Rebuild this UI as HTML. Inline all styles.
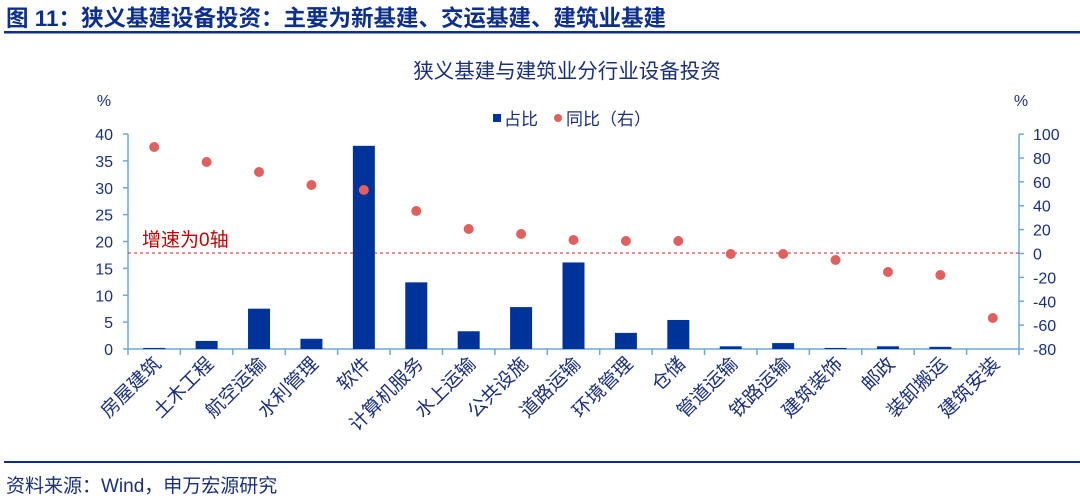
<!DOCTYPE html>
<html><head><meta charset="utf-8"><style>
body{margin:0;background:#fff;}
svg{display:block;font-family:"Liberation Sans","Noto Sans CJK SC",sans-serif;}
</style></head><body>
<svg width="1080" height="499" viewBox="0 0 1080 499">
<text x="6" y="26" font-size="22.5" font-weight="bold" fill="#0d2f8c">图 11：狭义基建设备投资：主要为新基建、交运基建、建筑业基建</text>
<rect x="4" y="31" width="1076" height="2.5" fill="#0d2f8c"/>
<text x="567" y="78" font-size="20.5" fill="#1a2f7a" text-anchor="middle">狭义基建与建筑业分行业设备投资</text>
<text x="104" y="106" font-size="16" fill="#1a2f7a" text-anchor="middle">%</text>
<text x="1021" y="106" font-size="16" fill="#1a2f7a" text-anchor="middle">%</text>
<rect x="493" y="114" width="8" height="8" fill="#003399"/>
<text x="504" y="125" font-size="17" fill="#1a2f7a">占比</text>
<circle cx="558" cy="118" r="4" fill="#e06060"/>
<text x="566" y="125" font-size="17" fill="#1a2f7a">同比（右）</text>
<g stroke="#6fa8dc" stroke-width="1.5" fill="none">
<line x1="128" y1="134" x2="128" y2="349"/>
<line x1="1019" y1="134" x2="1019" y2="349"/>
<line x1="128" y1="349" x2="1019" y2="349"/>
</g>
<line x1="128" y1="253" x2="1019" y2="253" stroke="#d02020" stroke-width="1" stroke-dasharray="3,3"/>
<text x="142" y="246" font-size="19" fill="#c00000">增速为0轴</text>
<g id="g"></g>
<text x="6" y="492" font-size="19" fill="#1a2f7a">资料来源：Wind，申万宏源研究</text>
<rect x="4" y="461" width="1076" height="2" fill="#0d2f8c"/>
<script>
var ns="http://www.w3.org/2000/svg",g=document.getElementById('g');
function el(t,a,txt){var e=document.createElementNS(ns,t);for(var k in a)e.setAttribute(k,a[k]);if(txt!=null)e.textContent=txt;g.appendChild(e);return e;}
for(var v=0;v<=40;v+=5){var y=349-v*5.375;el('text',{x:113,y:y+6,'font-size':16,fill:'#1a2f7a','text-anchor':'end'},v);el('line',{x1:123,y1:y,x2:128,y2:y,stroke:'#6fa8dc','stroke-width':1.5});}
for(var v=-80;v<=100;v+=20){var y=253.5-v*1.194;el('text',{x:1033,y:y+6,'font-size':16,fill:'#1a2f7a'},v);el('line',{x1:1019,y1:y,x2:1024,y2:y,stroke:'#6fa8dc','stroke-width':1.5});}
var names=['房屋建筑','土木工程','航空运输','水利管理','软件','计算机服务','水上运输','公共设施','道路运输','环境管理','仓储','管道运输','铁路运输','建筑装饰','邮政','装卸搬运','建筑安装'];
var bars=[0.2,1.5,7.5,1.9,37.8,12.4,3.3,7.8,16.1,3.0,5.4,0.5,1.1,0.2,0.5,0.4,0];
var dy=[147,162,172,185,190,211,229,234,240,241,241,254,254,260,272,275,318];
var w=891/17;
for(var i=0;i<=17;i++){var x=128+i*w;el('line',{x1:x,y1:349,x2:x,y2:355,stroke:'#6fa8dc','stroke-width':1.5});}
for(var i=0;i<17;i++){var c=128+w/2+i*w;var h=bars[i]*5.375;
if(h>0)el('rect',{x:c-11,y:349-h,width:22,height:h,fill:'#003399'});
el('circle',{cx:c,cy:dy[i],r:5,fill:'#e06060'});
el('text',{x:0,y:0,'font-size':19,fill:'#1a2f7a','text-anchor':'end',transform:'translate('+(c+8)+',365) rotate(-45)'},names[i]);}
</script>
</svg>
</body></html>
